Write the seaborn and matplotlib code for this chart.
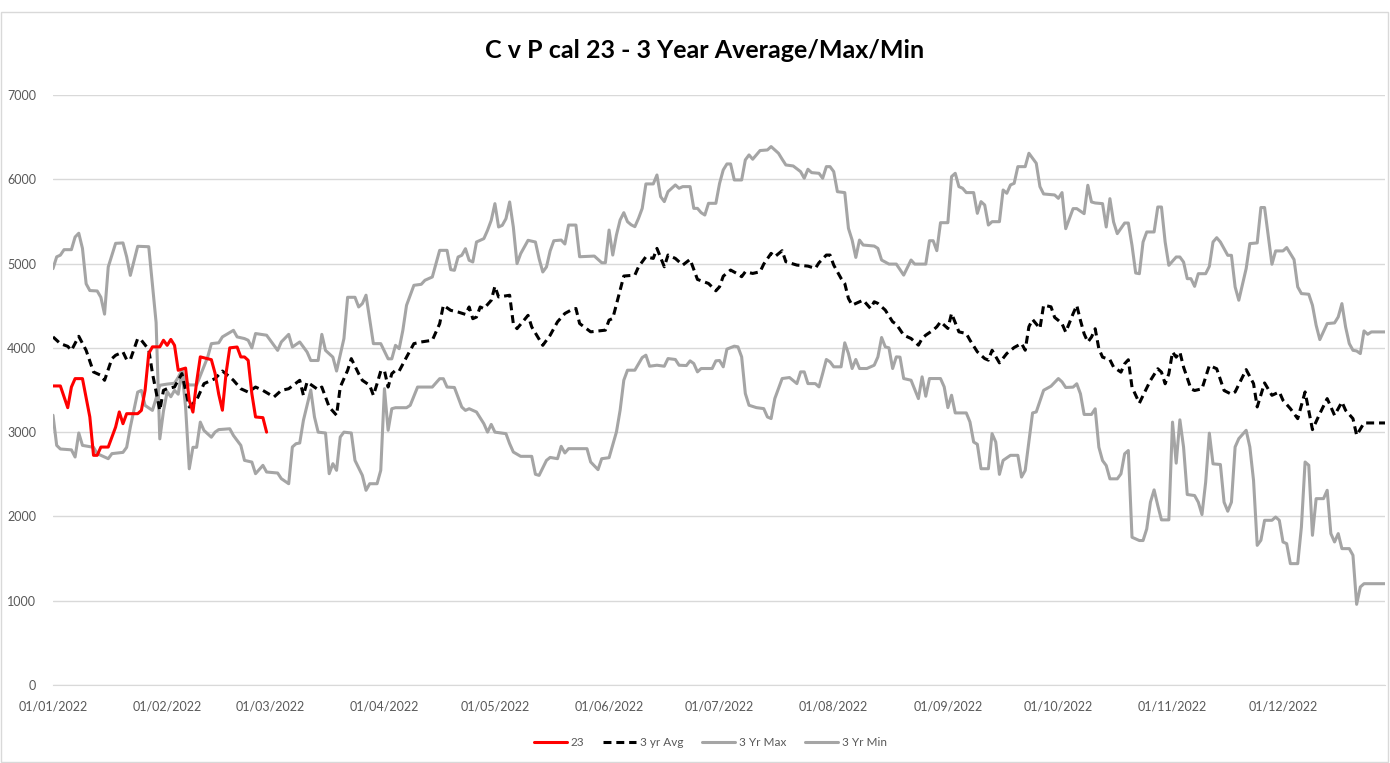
import matplotlib
matplotlib.use('Agg')
import matplotlib.pyplot as plt
import matplotlib.dates as mdates
from matplotlib import font_manager
from matplotlib.patches import Rectangle
import seaborn as sns
import pandas as pd

# days counted from 01/01/2022
red_days = [0, 2, 4, 5, 6, 8, 10, 11, 12, 13, 15, 17, 18, 19, 20, 23, 24, 25, 26, 27,
            29, 30, 31, 32, 33, 34, 36, 37, 38, 39, 40, 43, 44, 45, 46, 47, 48, 50, 51, 52,
            53, 54, 55, 57, 58]
red_vals = [3548, 3548, 3290, 3535, 3635, 3635, 3180, 2725, 2725, 2823, 2823, 3060, 3240, 3100, 3219, 3219, 3258, 3496, 3933, 4012,
            4012, 4090, 4030, 4100, 4030, 3734, 3760, 3377, 3238, 3595, 3893, 3860, 3700, 3450, 3260, 3700, 4000, 4010, 3892, 3892,
            3852, 3456, 3180, 3172, 3000]

avg_days = [0, 2, 4, 5, 7, 9, 11, 13, 14, 16, 17, 19, 20, 21, 23, 24, 26, 27, 29, 30,
            31, 33, 35, 36, 37, 39, 41, 43, 44, 46, 48, 49, 51, 53, 55, 57, 60, 62, 64, 67,
            68, 69, 72, 73, 75, 77, 78, 80, 81, 83, 84, 86, 87, 88, 89, 90, 91, 92, 93, 94,
            96, 98, 100, 103, 105, 106, 108, 110, 112, 113, 114, 115, 116, 117, 119, 120, 121, 124, 125, 126,
            129, 130, 133, 135, 137, 139, 141, 142, 143, 146, 150, 151, 152, 154, 155, 158, 159, 161, 163, 164,
            166, 167, 169, 171, 173, 175, 178, 180, 181, 182, 184, 186, 187, 188, 190, 192, 193, 195, 196, 198,
            199, 202, 205, 207, 208, 210, 211, 212, 214, 215, 216, 217, 219, 220, 222, 223, 224, 226, 228, 229,
            231, 233, 235, 236, 237, 239, 240, 241, 243, 244, 246, 248, 249, 251, 253, 254, 255, 257, 259, 261,
            263, 264, 265, 266, 268, 269, 271, 272, 273, 274, 275, 277, 278, 279, 280, 281, 282, 283, 284, 285,
            287, 288, 290, 291, 292, 293, 295, 296, 298, 300, 301, 302, 303, 304, 305, 306, 307, 309, 310, 312,
            314, 316, 318, 320, 321, 323, 324, 326, 327, 329, 331, 333, 334, 336, 338, 340, 342, 344, 346, 348,
            350, 351, 353, 354, 356, 362]
avg_vals = [4130, 4050, 4018, 3970, 4137, 3970, 3714, 3674, 3615, 3872, 3912, 3951, 3860, 3860, 4110, 4090, 3980, 3700, 3258, 3496,
            3516, 3536, 3694, 3496, 3298, 3380, 3575, 3615, 3635, 3725, 3655, 3615, 3515, 3475, 3535, 3495, 3417, 3495, 3515, 3615,
            3437, 3595, 3504, 3535, 3298, 3200, 3535, 3733, 3872, 3694, 3615, 3555, 3437, 3575, 3725, 3730, 3535, 3694, 3733, 3725,
            3890, 4050, 4070, 4090, 4287, 4505, 4445, 4425, 4397, 4485, 4346, 4366, 4485, 4465, 4564, 4730, 4604, 4624, 4287, 4228,
            4386, 4248, 4030, 4150, 4309, 4408, 4456, 4467, 4289, 4190, 4210, 4329, 4349, 4685, 4852, 4863, 4962, 5081, 5061, 5180,
            4962, 5101, 5061, 4982, 5050, 4812, 4764, 4677, 4725, 4850, 4923, 4875, 4844, 4903, 4883, 4903, 4994, 5121, 5081, 5153,
            5022, 4982, 4970, 4943, 5010, 5101, 5101, 4982, 4824, 4764, 4586, 4507, 4547, 4566, 4467, 4547, 4527, 4448, 4309, 4281,
            4151, 4111, 4032, 4111, 4151, 4210, 4250, 4309, 4230, 4408, 4190, 4170, 4091, 3953, 3873, 3854, 3972, 3822, 3933, 4004,
            4052, 3972, 4250, 4337, 4230, 4507, 4487, 4361, 4326, 4286, 4187, 4405, 4504, 4326, 4167, 4069, 4128, 4227, 3989, 3890,
            3859, 3772, 3712, 3811, 3859, 3534, 3344, 3435, 3613, 3752, 3712, 3574, 3693, 3950, 3890, 3950, 3772, 3514, 3494, 3514,
            3791, 3752, 3494, 3450, 3477, 3655, 3742, 3576, 3299, 3584, 3437, 3477, 3378, 3279, 3160, 3477, 3030, 3220, 3398, 3200,
            3358, 3259, 3160, 2963, 3109, 3109]

max_days = [0, 1, 2, 3, 5, 6, 7, 8, 9, 10, 12, 13, 14, 15, 17, 19, 20, 21, 23, 26,
            28, 29, 30, 31, 32, 33, 34, 35, 36, 37, 38, 39, 40, 41, 43, 44, 45, 48, 49, 51,
            52, 54, 55, 57, 58, 61, 62, 64, 65, 66, 67, 68, 70, 71, 72, 74, 75, 76, 77, 78,
            79, 81, 82, 84, 85, 86, 88, 89, 90, 91, 92, 93, 96, 97, 99, 103, 105, 106, 107, 109,
            111, 112, 113, 115, 117, 118, 119, 120, 123, 124, 125, 127, 130, 131, 132, 134, 135, 137, 138, 139,
            140, 145, 146, 148, 149, 151, 153, 154, 155, 156, 158, 160, 161, 162, 164, 166, 167, 169, 170, 172,
            173, 174, 175, 176, 179, 180, 181, 182, 183, 185, 186, 187, 188, 189, 191, 193, 194, 195, 196, 198,
            200, 202, 203, 204, 205, 207, 208, 209, 210, 211, 212, 214, 215, 216, 217, 218, 219, 221, 223, 224,
            225, 226, 227, 228, 229, 230, 231, 233, 235, 236, 237, 238, 241, 242, 243, 244, 245, 248, 249, 250,
            251, 252, 254, 255, 256, 257, 258, 260, 262, 263, 264, 266, 267, 269, 271, 273, 274, 275, 277, 278,
            279, 280, 282, 283, 284, 285, 286, 287, 289, 290, 291, 292, 293, 295, 296, 297, 298, 299, 300, 301,
            303, 304, 305, 306, 307, 308, 310, 311, 312, 313, 314, 315, 317, 318, 319, 320, 321, 322, 324, 325,
            326, 327, 328, 329, 331, 332, 333, 334, 335, 336, 338, 339, 340, 341, 342, 343, 345, 346, 347, 348,
            349, 350, 352, 353, 354, 355, 356, 362]
max_vals = [4940, 5080, 5100, 5165, 5165, 5315, 5360, 5180, 4760, 4680, 4675, 4600, 4400, 4960, 5240, 5245, 5080, 4860, 5205, 5200,
            4300, 2920, 3250, 3480, 3420, 3496, 3450, 3734, 3300, 2565, 2820, 2820, 3119, 3020, 2940, 3000, 3030, 3040, 2960, 2843,
            2665, 2645, 2507, 2606, 2527, 2515, 2448, 2388, 2824, 2863, 2871, 3140, 3500, 3180, 3000, 2990, 2507, 2626, 2547, 2942,
            3000, 2990, 2665, 2487, 2310, 2388, 2388, 2547, 3516, 3022, 3278, 3290, 3290, 3318, 3535, 3535, 3634, 3634, 3535, 3530,
            3298, 3258, 3278, 3239, 3100, 3000, 3092, 3000, 2982, 2863, 2764, 2713, 2713, 2500, 2487, 2665, 2700, 2685, 2832, 2753,
            2804, 2804, 2646, 2555, 2685, 2697, 3002, 3260, 3616, 3735, 3735, 3885, 3913, 3782, 3794, 3782, 3873, 3862, 3794, 3790,
            3846, 3814, 3715, 3755, 3755, 3846, 3850, 3775, 3985, 4020, 4012, 3893, 3458, 3319, 3291, 3279, 3180, 3161, 3398, 3636,
            3648, 3576, 3715, 3715, 3576, 3576, 3537, 3695, 3862, 3834, 3775, 3775, 4060, 3933, 3755, 3862, 3755, 3755, 3794, 3893,
            4123, 4012, 4000, 3755, 3893, 3890, 3636, 3616, 3398, 3656, 3426, 3636, 3636, 3537, 3291, 3438, 3228, 3228, 3121, 2883,
            2856, 2566, 2566, 2982, 2883, 2499, 2665, 2725, 2725, 2467, 2546, 3228, 3240, 3497, 3545, 3636, 3596, 3530, 3534, 3574,
            3455, 3210, 3210, 3277, 2822, 2663, 2604, 2446, 2446, 2505, 2743, 2782, 1753, 1714, 1714, 1852, 2169, 2315, 2129, 1959,
            1959, 3119, 2632, 3146, 2822, 2260, 2248, 2169, 2022, 2406, 2988, 2624, 2616, 2169, 2062, 2169, 2824, 2923, 3022, 2824,
            2428, 1657, 1717, 1954, 1954, 1993, 1954, 1697, 1677, 1440, 1440, 1875, 2646, 2607, 1776, 2211, 2211, 2310, 1796, 1697,
            1796, 1618, 1618, 1539, 957, 1163, 1202, 1202]

min_days = [0, 1, 2, 5, 6, 7, 8, 11, 12, 15, 16, 19, 20, 21, 23, 24, 25, 27, 28, 29,
            31, 33, 34, 35, 36, 37, 39, 42, 43, 45, 46, 49, 50, 52, 53, 54, 55, 58, 59, 61,
            62, 64, 65, 67, 69, 70, 72, 73, 74, 76, 77, 79, 80, 82, 83, 84, 85, 87, 89, 91,
            92, 93, 94, 95, 96, 98, 100, 101, 103, 104, 105, 107, 108, 109, 110, 111, 112, 113, 114, 115,
            117, 118, 119, 120, 121, 122, 123, 124, 125, 126, 127, 129, 131, 132, 133, 134, 135, 136, 138, 139,
            140, 142, 143, 147, 149, 150, 151, 152, 153, 154, 155, 156, 157, 158, 159, 160, 161, 163, 164, 165,
            166, 167, 169, 170, 171, 173, 174, 175, 176, 177, 178, 180, 181, 182, 183, 184, 185, 187, 188, 189,
            190, 192, 194, 195, 197, 198, 199, 201, 203, 204, 205, 206, 208, 209, 210, 211, 212, 213, 215, 216,
            217, 218, 219, 220, 223, 224, 225, 227, 229, 231, 233, 234, 237, 238, 239, 240, 241, 243, 244, 245,
            246, 247, 248, 250, 251, 252, 253, 254, 255, 257, 258, 259, 260, 261, 262, 264, 265, 267, 268, 269,
            272, 273, 274, 275, 277, 278, 280, 281, 282, 283, 285, 286, 287, 288, 289, 291, 292, 293, 294, 295,
            296, 297, 299, 300, 301, 302, 303, 305, 306, 307, 308, 309, 310, 311, 313, 314, 315, 316, 317, 319,
            320, 321, 322, 324, 325, 327, 328, 329, 331, 332, 334, 335, 336, 337, 338, 339, 341, 342, 343, 344,
            346, 348, 349, 350, 351, 352, 353, 354, 355, 356, 357, 358, 362]
min_vals = [3200, 2843, 2800, 2790, 2705, 2990, 2843, 2820, 2745, 2685, 2745, 2760, 2820, 3060, 3475, 3495, 3317, 3258, 3400, 3556,
            3570, 3580, 3650, 3734, 3600, 3560, 3560, 3890, 4050, 4060, 4130, 4208, 4130, 4110, 4090, 4000, 4170, 4150, 4090, 3970,
            4070, 4160, 4010, 4070, 3950, 3850, 3850, 4160, 3970, 3890, 3725, 4110, 4600, 4600, 4485, 4525, 4625, 4050, 4050, 3870,
            3870, 4030, 3990, 4208, 4505, 4742, 4754, 4802, 4841, 5000, 5157, 5157, 4928, 4920, 5078, 5098, 5177, 5039, 5019, 5256,
            5296, 5395, 5513, 5711, 5434, 5454, 5533, 5731, 5434, 5000, 5118, 5276, 5256, 5058, 4900, 4960, 5150, 5271, 5279, 5232,
            5457, 5457, 5081, 5089, 5010, 5010, 5398, 5101, 5339, 5517, 5604, 5497, 5460, 5438, 5537, 5655, 5945, 5945, 6051, 5794,
            5735, 5853, 5933, 5893, 5913, 5913, 5655, 5655, 5604, 5576, 5715, 5715, 5950, 6111, 6182, 6182, 5992, 5992, 6230, 6289,
            6238, 6341, 6348, 6388, 6309, 6238, 6170, 6158, 6091, 6012, 6119, 6079, 6071, 6012, 6150, 6150, 6091, 5853, 5842, 5418,
            5279, 5073, 5279, 5220, 5208, 5180, 5042, 4994, 4994, 4863, 5042, 4994, 4994, 5271, 5271, 5153, 5485, 5485, 6032, 6071,
            5913, 5893, 5842, 5842, 5596, 5735, 5695, 5457, 5497, 5497, 5873, 5834, 5933, 5952, 6150, 6150, 6309, 6190, 5913, 5826,
            5814, 5774, 5842, 5414, 5652, 5652, 5592, 5929, 5731, 5719, 5711, 5434, 5770, 5493, 5355, 5481, 5481, 5216, 4888, 4880,
            5256, 5375, 5375, 5671, 5671, 5256, 4979, 5078, 5078, 5018, 4821, 4821, 4730, 4880, 4880, 4967, 5256, 5307, 5256, 5098,
            5098, 4723, 4565, 4941, 5237, 5245, 5665, 5665, 4992, 5150, 5150, 5190, 5119, 5047, 4723, 4644, 4636, 4505, 4268, 4098,
            4288, 4296, 4367, 4525, 4248, 4051, 3971, 3963, 3932, 4201, 4161, 4189, 4189]

year_start = pd.Timestamp('2022-01-01')


def to_frame(days, vals):
    return pd.DataFrame({'date': year_start + pd.to_timedelta(days, unit='D'), 'value': vals})


sns.set_style('white')
names = {f.name for f in font_manager.fontManager.ttflist}
narrow = 'Liberation Sans Narrow' if 'Liberation Sans Narrow' in names else 'Lato'
plt.rcParams['font.family'] = [narrow, 'DejaVu Sans']

fig = plt.figure(figsize=(13.9, 7.63), dpi=100)
ax = fig.add_axes([53 / 1390, 78 / 763, 1332 / 1390, 590 / 763])

gray = '#A5A5A5'
sns.lineplot(data=to_frame(min_days, min_vals), x='date', y='value', ax=ax, color=gray,
             linewidth=2.2, estimator=None, label='3 Yr Min', zorder=2)
sns.lineplot(data=to_frame(max_days, max_vals), x='date', y='value', ax=ax, color=gray,
             linewidth=2.2, estimator=None, label='3 Yr Max', zorder=2)
sns.lineplot(data=to_frame(avg_days, avg_vals), x='date', y='value', ax=ax, color='black',
             linewidth=2.2, estimator=None, label='3 yr Avg', dashes=(2.6, 1.6), zorder=3)
sns.lineplot(data=to_frame(red_days, red_vals), x='date', y='value', ax=ax, color='#FF0000',
             linewidth=2.2, estimator=None, label='23', zorder=4)

ax.set_xlim(year_start, year_start + pd.Timedelta(days=361.7))
ax.set_ylim(0, 7000)
ax.set_yticks(range(0, 7001, 1000))
ax.xaxis.set_major_locator(mdates.MonthLocator())
ax.xaxis.set_major_formatter(mdates.DateFormatter('%d/%m/%Y'))
ax.tick_params(axis='both', length=0, labelsize=9, colors='#595959')
ax.tick_params(axis='x', pad=11)
ax.tick_params(axis='y', pad=12)
ax.set_xlabel('')
ax.set_ylabel('')
ax.grid(axis='y', color='#D9D9D9', linewidth=1)
ax.set_axisbelow(True)
for side in ['left', 'right', 'top']:
    ax.spines[side].set_visible(False)
ax.spines['bottom'].set_color('#D9D9D9')

handles, labels = ax.get_legend_handles_labels()
order = [labels.index(n) for n in ['23', '3 yr Avg', '3 Yr Max', '3 Yr Min']]
ax.get_legend().remove()
fig.legend([handles[i] for i in order], [labels[i] for i in order], loc='center',
           bbox_to_anchor=(0.511, 0.027), ncol=4, frameon=False, fontsize=8.5,
           handlelength=2.8, columnspacing=1.6, handletextpad=0.3, labelcolor='#595959')

fig.text(0.507, 1 - 51 / 763, 'C v P cal 23 - 3 Year Average/Max/Min', ha='center', va='center',
         fontsize=18, fontweight='bold', color='black')

fig.patches.append(Rectangle((0.0005, 0.001), 0.998, 1 - 13 / 763, transform=fig.transFigure,
                             fill=False, edgecolor='#D9D9D9', linewidth=1))

fig.savefig('out.png', dpi=100)
plt.close(fig)
